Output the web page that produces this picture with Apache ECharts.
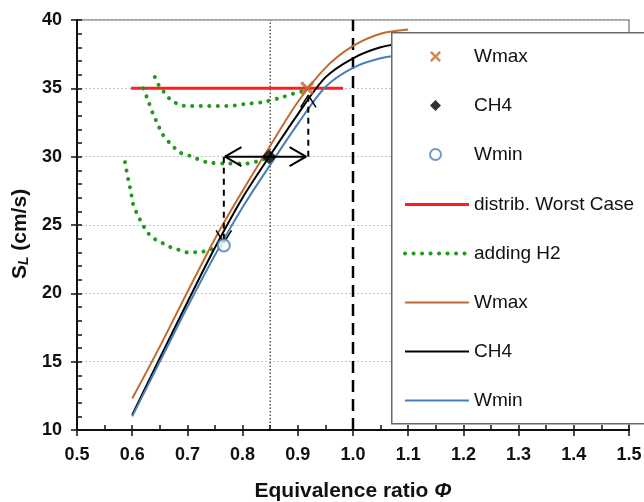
<!DOCTYPE html>
<html><head><meta charset="utf-8">
<script src="https://cdn.jsdelivr.net/npm/echarts@6/dist/echarts.min.js"></script>
<style>html,body{margin:0;padding:0;background:#fff}#c{width:644px;height:502px}</style>
</head><body><div id="c"></div>
<script>
// ---- data ----
const xMin = 0.5, xMax = 1.5, xStep = 0.1;
const yMin = 10, yMax = 40, yStep = 5;
// laminar flame speed curves [phi, S_L]
const wmaxCurve = [[0.6,12.3],[0.65,16.1],[0.7,20.1],[0.75,24.0],[0.8,27.5],[0.85,30.8],[0.9,34.0],[0.95,36.5],[1.0,38.1],[1.05,39.0],[1.1,39.3]];
const ch4Curve  = [[0.6,11.1],[0.65,15.25],[0.7,19.35],[0.75,23.35],[0.8,27.0],[0.85,30.1],[0.9,33.1],[0.95,35.8],[1.0,37.2],[1.05,38.0],[1.1,38.4]];
const wminCurve = [[0.6,11.0],[0.65,15.0],[0.7,19.0],[0.75,22.8],[0.8,26.3],[0.85,29.4],[0.9,32.4],[0.95,35.1],[1.0,36.5],[1.05,37.2],[1.1,37.5]];
// markers
const wmaxPoint = [[0.917,35]];
const ch4Point  = [[0.848,30]];
const wminPoint = [[0.766,23.5]];
// distribution worst case
const worstCase = [[0.598,35],[0.982,35]];
// adding H2 curves
const h2Top = [[0.641,35.83],[0.649,35.17],[0.659,34.66],[0.670,34.15],[0.687,33.78],[0.701,33.7],[0.772,33.7],[0.804,33.85],[0.837,34.0],[0.868,34.3],[0.891,34.6],[0.909,34.8],[0.917,35]];
const h2Mid = [[0.620,35.0],[0.627,34.3],[0.638,33.1],[0.645,32.5],[0.654,31.7],[0.668,31.0],[0.687,30.3],[0.705,30.05],[0.735,29.6],[0.771,29.5],[0.808,29.5],[0.837,29.8],[0.848,30]];
const h2Low = [[0.587,29.6],[0.593,28.3],[0.598,27.4],[0.601,26.6],[0.609,25.8],[0.618,25.1],[0.627,24.5],[0.638,24.05],[0.654,23.7],[0.668,23.4],[0.683,23.2],[0.699,23.0],[0.717,23.0],[0.734,23.1],[0.750,23.3],[0.766,23.5]];
// annotation lines
const phiRef = [[0.85,10],[0.85,40]];
const phiStoich = [[1.0,10],[1.0,40]];
const hArrow = [[0.768,30],[0.915,30]];
const hHeadL = [[0.798,30.7],[0.768,30],[0.798,29.3]];
const hHeadR = [[0.885,30.7],[0.915,30],[0.885,29.3]];
const dashL = [[0.766,30],[0.766,23.8]];
const dashR = [[0.919,30],[0.919,34.4]];
const headDown = [[0.752,24.6],[0.766,23.7],[0.780,24.6]];
const headUp = [[0.905,33.6],[0.919,34.5],[0.933,33.6]];

const BROWN = '#BF6A2E', BLUE = '#4A7EBB', GREEN = '#1F9A1F', RED = '#FF1E1E';
const FONT = 'Liberation Sans, Arial, sans-serif';
const X_PATH = 'path://M0,1.6L1.6,0L5,3.4L8.4,0L10,1.6L6.6,5L10,8.4L8.4,10L5,6.6L1.6,10L0,8.4L3.4,5Z';

const chart = echarts.init(document.getElementById('c'), null, {renderer:'canvas'});

function ann(data, style) {
  return {type:'line', data, silent:true, symbol:'none', animation:false, z:3,
    lineStyle:Object.assign({color:'#000', width:2}, style)};
}
function h2(data) {
  return {name:'adding H2', type:'line', data, symbol:'none', smooth:0.3, animation:false, z:3,
    lineStyle:{color:GREEN, width:4, type:[0.1,8.4], cap:'round'}, itemStyle:{color:GREEN}};
}
const legendText = {fontSize:19, color:'#111', fontFamily:FONT, lineHeight:17};

const option = {
  animation:false,
  textStyle:{fontFamily:FONT},
  grid:{left:77, right:15, top:20, bottom:72, show:true, borderColor:'#8a8a8a', borderWidth:1.5, backgroundColor:'transparent',
        containLabel:false, outerBoundsMode:'none'},
  xAxis:[
    {type:'value', min:xMin, max:xMax, interval:xStep, position:'bottom',
     axisLine:{onZero:false, lineStyle:{color:'#111', width:2}},
     axisTick:{inside:false, length:6, lineStyle:{color:'#111', width:1.5}},
     axisLabel:{color:'#111', fontSize:18, fontWeight:'bold', fontFamily:FONT, margin:16, formatter:v=>v.toFixed(1)},
     splitLine:{show:false},
     name:'Equivalence ratio {i|Φ}', nameLocation:'middle', nameGap:51,
     nameTextStyle:{color:'#111', fontSize:21, fontWeight:'bold', fontFamily:FONT,
       rich:{i:{fontStyle:'italic', fontWeight:'bold', fontSize:21, fontFamily:FONT, color:'#111'}}}},
    {type:'value', min:xMin, max:xMax, interval:xStep/2, position:'bottom',
     axisLine:{show:false}, axisTick:{inside:true, length:5, lineStyle:{color:'#111', width:1.5}},
     axisLabel:{show:false}, splitLine:{show:false}}
  ],
  yAxis:[
    {type:'value', min:yMin, max:yMax, interval:yStep, position:'left',
     axisLine:{show:true, onZero:false, lineStyle:{color:'#111', width:2}},
     axisTick:{show:true, inside:false, length:6, lineStyle:{color:'#111', width:1.5}},
     axisLabel:{color:'#111', fontSize:18, fontWeight:'bold', fontFamily:FONT, margin:15},
     splitLine:{show:true, lineStyle:{color:'#c4c4c4', width:1, type:[2,2]}},
     name:'{s|S}{l|L} (cm/s)', nameLocation:'middle', nameGap:43, nameRotate:90,
     nameTextStyle:{color:'#111', fontSize:21, fontWeight:'bold', fontFamily:FONT, padding:[0,18,0,0],
       rich:{s:{fontSize:21, fontWeight:'bold', fontFamily:FONT, color:'#111'},
             l:{fontSize:14, fontWeight:'bold', fontStyle:'italic', fontFamily:FONT, color:'#111', verticalAlign:'bottom', padding:[8,0,0,0]}}}},
    {type:'value', min:yMin, max:yMax, interval:1, position:'left',
     axisLine:{show:false}, axisTick:{show:true, inside:true, length:5, lineStyle:{color:'#111', width:1.5}},
     axisLabel:{show:false}, splitLine:{show:false}}
  ],
  legend:[
    {data:['Wmax ','CH4 ','Wmin '], orient:'vertical', left:429, top:47, itemWidth:11, itemHeight:11, itemGap:30,
     padding:0, z:10, selectedMode:false, textStyle:Object.assign({padding:[0,0,0,28]}, legendText)},
    {data:['distrib. Worst Case','adding H2','Wmax','CH4','Wmin'], orient:'vertical', left:403, top:195, itemWidth:64, itemHeight:14, itemGap:30,
     padding:0, z:10, selectedMode:false, itemStyle:{opacity:0}, lineStyle:{width:'inherit'}, textStyle:legendText}
  ],
  graphic:[{type:'rect', left:391, top:32, z:6, shape:{width:280, height:391},
    style:{fill:'#fff', stroke:'#6a6a6a', lineWidth:1.5}}],
  series:[
    ann(phiRef, {width:1, type:[1.5,2]}),
    ann(phiStoich, {width:2.5, type:[12,7]}),
    {name:'distrib. Worst Case', type:'line', data:worstCase, symbol:'none', animation:false, z:3,
     lineStyle:{color:RED, width:3}, itemStyle:{color:RED}},
    h2(h2Top), h2(h2Mid), h2(h2Low),
    {name:'Wmax', type:'line', data:wmaxCurve, symbol:'none', smooth:0.3, animation:false, z:3, lineStyle:{color:BROWN, width:2}, itemStyle:{color:BROWN}},
    {name:'CH4', type:'line', data:ch4Curve, symbol:'none', smooth:0.3, animation:false, z:3, lineStyle:{color:'#000', width:2}, itemStyle:{color:'#000'}},
    {name:'Wmin', type:'line', data:wminCurve, symbol:'none', smooth:0.3, animation:false, z:3, lineStyle:{color:BLUE, width:2}, itemStyle:{color:BLUE}},
    ann(hArrow, {width:2}), ann(hHeadL, {width:2}), ann(hHeadR, {width:2}),
    ann(dashL, {width:2, type:[6,5]}), ann(dashR, {width:2, type:[6,5]}),
    ann(headDown, {width:1.5}), ann(headUp, {width:1.5}),
    {name:'Wmax ', type:'scatter', data:wmaxPoint, symbol:X_PATH, symbolSize:14, z:4, itemStyle:{color:BROWN}},
    {name:'CH4 ', type:'scatter', data:ch4Point, symbol:'diamond', symbolSize:15, z:4, itemStyle:{color:'#000'}},
    {name:'Wmin ', type:'scatter', data:wminPoint, symbol:'emptyCircle', symbolSize:12, z:4, itemStyle:{color:BLUE, borderWidth:1.5}}
  ]
};
chart.setOption(option);
</script></body></html>
